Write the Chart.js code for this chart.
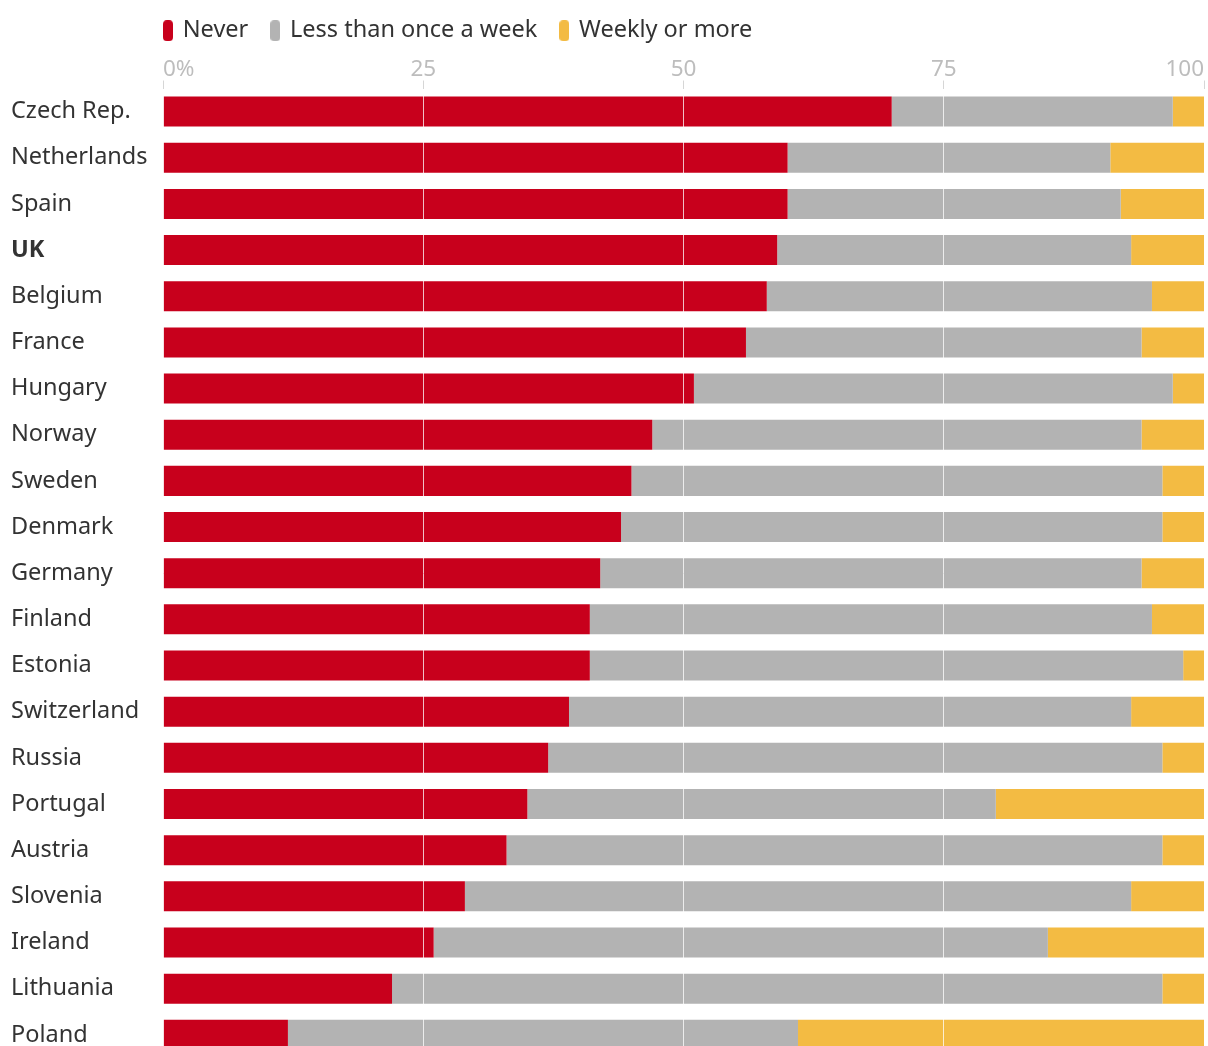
<!DOCTYPE html>
<html>
<head>
<meta charset="utf-8">
<script src="https://cdn.jsdelivr.net/npm/chart.js@4.4.0/dist/chart.umd.min.js"></script>
<style>
  body { margin: 0; background: #fff; overflow: hidden; }
  #wrap { position: relative; width: 1208px; height: 1075px; }
</style>
</head>
<body>
<div id="wrap"><canvas id="myChart"></canvas></div>
<script>
// countries, top to bottom
const countries = ['Czech Rep.', 'Netherlands', 'Spain', 'UK', 'Belgium', 'France', 'Hungary',
  'Norway', 'Sweden', 'Denmark', 'Germany', 'Finland', 'Estonia', 'Switzerland', 'Russia',
  'Portugal', 'Austria', 'Slovenia', 'Ireland', 'Lithuania', 'Poland'];

// share of people (%)
const never      = [70, 60, 60, 59, 58, 56, 51, 47, 45, 44, 42, 41, 41, 39, 37, 35, 33, 29, 26, 22, 12];
const lessWeekly = [27, 31, 32, 34, 37, 38, 46, 47, 51, 52, 52, 54, 57, 54, 59, 45, 63, 64, 59, 74, 49];
const weekly     = [3, 9, 8, 7, 5, 6, 3, 6, 4, 4, 6, 5, 2, 7, 4, 20, 4, 7, 15, 4, 39];

const colors = ['#c8001c', '#b3b3b3', '#f3bb43'];
const xTicks = [0, 25, 50, 75, 100];

const FONT = '"Noto Sans", "Open Sans", sans-serif';

// little rounded pills for the legend
function pill(color) {
  var c = document.createElement('canvas');
  c.width = 10;
  c.height = 21;
  var g = c.getContext('2d');
  g.fillStyle = color;
  g.beginPath();
  g.roundRect(0, 0, 10, 21, 4);
  g.fill();
  return c;
}
const markers = colors.map(pill);

// move the legend so it starts at the left edge of the bars
const legendShift = {
  id: 'legendShift',
  beforeDraw(chart) {
    chart.legend.left = chart.chartArea.left - 24 + 2;
    chart.legend.top = -5;
  }
};

const ctx = document.getElementById('myChart').getContext('2d');
const myChart = new Chart(ctx, {
  type: 'bar',
  data: {
    labels: countries,
    datasets: [
      { label: 'Never', data: never, backgroundColor: colors[0] },
      { label: 'Less than once a week', data: lessWeekly, backgroundColor: colors[1] },
      { label: 'Weekly or more', data: weekly, backgroundColor: colors[2] }
    ]
  },
  options: {
    indexAxis: 'y',
    responsive: true,
    maintainAspectRatio: false,
    animation: false,
    datasets: {
      bar: { barPercentage: 1, categoryPercentage: 0.65 }
    },
    layout: { padding: { left: 11, right: 4, top: 2, bottom: 0 } },
    plugins: {
      tooltip: { enabled: false },
      legend: {
        position: 'top',
        align: 'start',
        labels: {
          usePointStyle: true,
          pointStyleWidth: 6,
          padding: 24,
          color: '#333',
          font: { family: FONT, size: 23.5 },
          generateLabels: function (chart) {
            var items = Chart.defaults.plugins.legend.labels.generateLabels(chart);
            items.forEach((it, i) => { it.pointStyle = markers[i]; });
            return items;
          }
        }
      }
    },
    scales: {
      x: {
        position: 'top',
        stacked: true,
        min: 0,
        max: 100,
        afterBuildTicks: function (scale) {
          scale.ticks = xTicks.map(v => ({ value: v }));
        },
        ticks: {
          align: 'inner',
          padding: -3,
          color: '#bdbdbd',
          font: { family: FONT, size: 22.5 },
          callback: v => v === 0 ? '0%' : v
        },
        grid: {
          z: 1,
          color: 'rgba(255,255,255,0.75)',
          tickColor: '#d6d6d6',
          tickLength: 8,
          lineWidth: 1
        },
        border: { display: false }
      },
      y: {
        stacked: true,
        afterFit: function (scale) { scale.width = 152; },
        ticks: {
          crossAlign: 'far',
          color: '#333',
          font: c => ({ family: FONT, size: 23.5, weight: c.index === 3 ? 'bold' : 'normal' })
        },
        grid: { display: false },
        border: { display: false }
      }
    }
  },
  plugins: [legendShift]
});
</script>
</body>
</html>
